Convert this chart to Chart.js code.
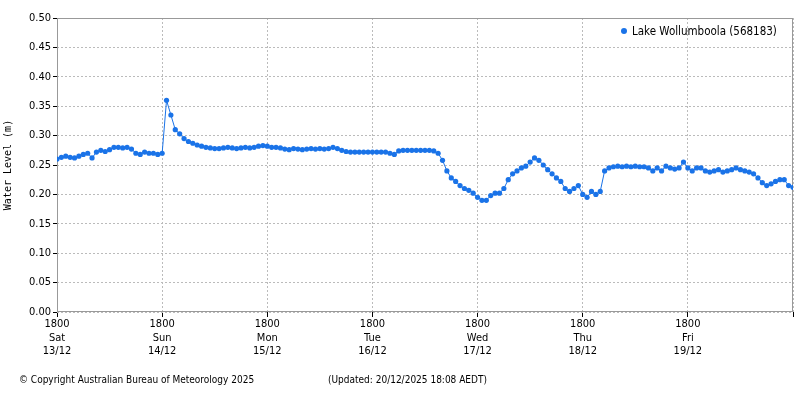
<!DOCTYPE html>
<html><head><meta charset="utf-8">
<script src="https://cdn.jsdelivr.net/npm/chart.js@4"></script>
<style>
body{margin:0;background:#fff;font-family:"DejaVu Sans Condensed","DejaVu Sans",sans-serif;}
#wrap{position:relative;width:800px;height:400px;}
.t{position:absolute;font-size:10px;color:#000;white-space:nowrap;font-family:"DejaVu Sans Condensed","DejaVu Sans",sans-serif;}
</style></head><body>
<div id="wrap"><canvas id="c" width="800" height="400"></canvas>
<div class="t" style="left:621px;top:24px;font-size:11.5px;"><span style="display:inline-block;width:6px;height:6px;border-radius:3px;background:#1a73e8;margin-right:5px;vertical-align:1px"></span>Lake Wollumboola (568183)</div>
<div class="t" style="left:19px;top:374px;">© Copyright Australian Bureau of Meteorology 2025</div>
<div class="t" style="left:328px;top:374px;">(Updated: 20/12/2025 18:08 AEDT)</div>
</div>
<script>
const dayLabels = [['1800','Sat','13/12'],['1800','Sun','14/12'],['1800','Mon','15/12'],['1800','Tue','16/12'],['1800','Wed','17/12'],['1800','Thu','18/12'],['1800','Fri','19/12']];
const hours = [];
for (let i=0;i<=168;i++) hours.push(i);
const levels = [
0.26,0.263,0.265,0.263,0.262,0.265,0.268,0.27,0.262,0.272,0.275,0.273,0.276,0.28,0.28,0.279,0.28,0.277,0.27,0.268,0.272,0.27,0.27,0.268,0.27,
0.36,0.335,0.31,0.303,0.295,0.29,0.287,0.284,0.282,0.28,0.279,0.278,
0.278,0.279,0.28,0.279,0.278,0.279,0.28,0.279,
0.28,0.282,0.283,0.282,0.28,0.28,0.279,0.277,0.276,0.278,0.277,0.276,0.277,0.278,0.277,0.278,0.277,0.278,0.28,0.278,0.275,0.273,
0.272,0.272,0.272,0.272,0.272,0.272,0.272,0.272,0.272,
0.27,0.268,0.274,0.275,0.275,0.275,0.275,0.275,0.275,0.275,0.274,0.27,
0.258,0.24,0.228,0.222,0.215,0.21,0.207,0.202,0.195,0.19,0.19,0.198,0.202,0.202,0.21,0.225,0.235,0.24,0.245,0.248,0.255,0.262,0.258,0.25,0.242,0.235,0.228,0.222,0.21,0.205,0.21,0.215,0.2,0.195,0.205,0.2,0.205,0.24,0.245,
0.247,0.248,0.247,0.248,0.247,0.248,0.247,
0.247,0.245,0.24,0.245,0.24,0.248,0.245,0.243,0.245,0.255,0.245,0.24,0.245,0.245,0.24,0.238,0.24,0.242,0.238,0.24,0.242,0.245,0.242,0.24,0.238,0.235,0.228,0.22,0.215,0.218,0.222,0.225,0.225,0.215,0.212];
const yTicks = [];
for (let i=0;i<=10;i++) yTicks.push(i*0.05);
const col = '#1a73e8';
const tickFont = {family:'DejaVu Sans Condensed',size:11};
new Chart(document.getElementById('c'), {
  type:'line',
  data:{datasets:[{data:hours.map((h,i)=>({x:h,y:levels[i]})),borderColor:col,backgroundColor:col,borderWidth:1,pointRadius:2.6,pointBorderWidth:0,tension:0}]},
  options:{
    responsive:false,animation:false,
    layout:{padding:{top:18,right:7,left:0,bottom:0}},
    plugins:{legend:{display:false},tooltip:{enabled:false}},
    scales:{
      x:{type:'linear',min:0,max:168,
        afterBuildTicks:s=>{s.ticks=[0,24,48,72,96,120,144,168].map(v=>({value:v}));},
        afterFit:s=>{s.height=88;},
        grid:{color:'#bbb',tickLength:5,tickColor:'#000'},
        border:{display:false,dash:[2,2]},
        ticks:{autoSkip:false,maxRotation:0,padding:1,color:'#000',font:tickFont,
          callback:v=>v<168?dayLabels[v/24]:''}
      },
      y:{min:0,max:0.5,
        afterBuildTicks:s=>{s.ticks=yTicks.map(v=>({value:v}));},
        afterFit:s=>{s.width=57;},
        grid:{color:'#bbb',tickLength:4,tickColor:'#000'},
        border:{display:false,dash:[2,2]},
        title:{display:true,text:'Water Level (m)',font:{family:'DejaVu Sans Mono',size:10},color:'#000',padding:2},
        ticks:{color:'#000',font:tickFont,padding:2,callback:v=>v.toFixed(2)}
      }
    }
  },
  plugins:[{id:'frame',beforeDatasetsDraw(ch){const a=ch.chartArea,c=ch.ctx;c.save();c.strokeStyle='#999';c.lineWidth=1;c.strokeRect(a.left+0.5,a.top+0.5,a.right-a.left-1,a.bottom-a.top-1);c.restore();}}]
});
</script></body></html>
